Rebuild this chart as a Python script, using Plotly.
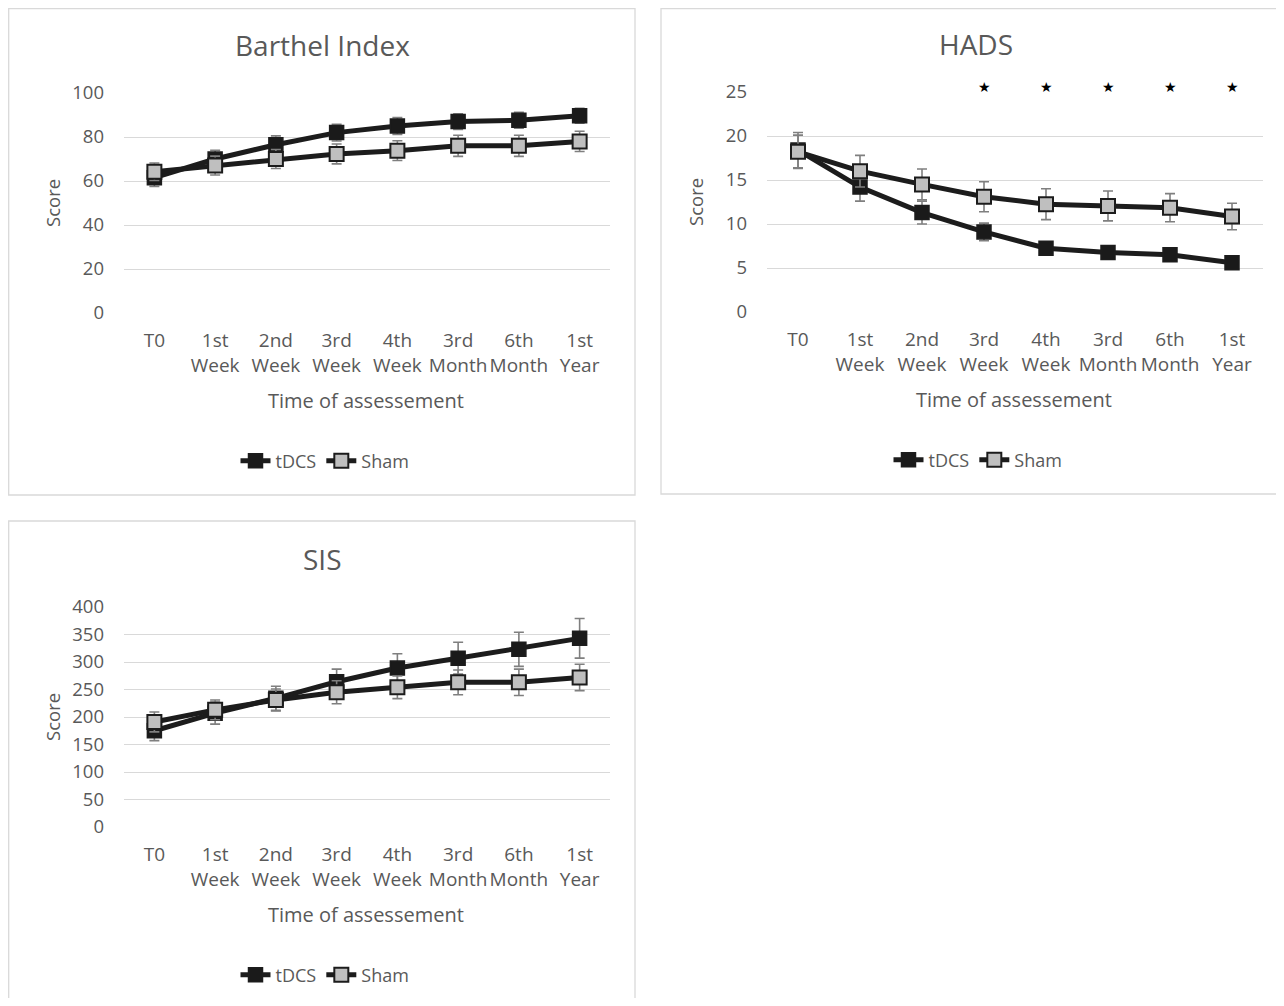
import plotly.graph_objects as go

categories = ["T0", "1st<br>Week", "2nd<br>Week", "3rd<br>Week", "4th<br>Week",
              "3rd<br>Month", "6th<br>Month", "1st<br>Year"]

barthel_tdcs = [61.5, 70, 76.5, 82, 85, 87, 87.6, 89.7]
barthel_tdcs_err = [4, 4, 4, 3.8, 3.8, 3.6, 3.6, 3.4]
barthel_sham = [64.2, 67, 70, 72.3, 73.8, 76, 76, 78]
barthel_sham_err = [4, 4.3, 4.3, 4.5, 4.5, 4.8, 4.8, 4.6]

hads_tdcs = [18.4, 14.2, 11.3, 9.1, 7.25, 6.75, 6.5, 5.6]
hads_tdcs_err = [2.0, 1.6, 1.3, 1.0, 0.5, 0.5, 0.5, 0.4]
hads_sham = [18.2, 16.0, 14.5, 13.1, 12.25, 12.05, 11.85, 10.85]
hads_sham_err = [1.9, 1.8, 1.75, 1.7, 1.75, 1.7, 1.6, 1.5]
hads_significant = ["3rd<br>Week", "4th<br>Week", "3rd<br>Month", "6th<br>Month", "1st<br>Year"]

sis_tdcs = [175, 207, 234, 264, 289, 307, 323, 343]
sis_tdcs_err = [18, 20, 22, 23, 26, 29, 31, 36]
sis_sham = [191, 213, 231, 245, 254, 263, 263, 272]
sis_sham_err = [18, 18, 20, 21, 20.5, 22.5, 24, 24]

W, H = 1268, 990
OFF = 8
def px(x):
    return (x - OFF) / W
def py(y):
    return 1 - (y - OFF) / H

FONT = "Open Sans"
GREY = "#595959"
LINE = "#1c1c1c"
ERRC = "#7f7f7f"

fig = go.Figure()

panels = [
    dict(name="Barthel Index", tdcs=barthel_tdcs, te=barthel_tdcs_err, sham=barthel_sham, se=barthel_sham_err,
         x0=124, x1=610, y0=93, y1=313, rng=[0, 100], dtick=20, legend="legend", leg=(325, 461),
         title=(322, 45), box=(8.7, 8.7, 635, 495)),
    dict(name="HADS", tdcs=hads_tdcs, te=hads_tdcs_err, sham=hads_sham, se=hads_sham_err,
         x0=767, x1=1263, y0=92, y1=312, rng=[0, 25], dtick=5, legend="legend2", leg=(978, 460),
         title=(976, 44), box=(661, 8.7, 1277, 494)),
    dict(name="SIS", tdcs=sis_tdcs, te=sis_tdcs_err, sham=sis_sham, se=sis_sham_err,
         x0=124, x1=610, y0=607, y1=827, rng=[0, 400], dtick=50, legend="legend3", leg=(325, 975),
         title=(322, 559), box=(8.7, 521, 635, 1010)),
]

shapes = []
annotations = []
layout_updates = {}

for i, p in enumerate(panels):
    sfx = "" if i == 0 else str(i + 1)
    xa, ya = "x" + sfx, "y" + sfx
    fig.add_trace(go.Scatter(
        x=categories, y=p["tdcs"], name="tDCS", mode="lines+markers",
        xaxis=xa, yaxis=ya, legend=p["legend"],
        line=dict(color=LINE, width=5),
        marker=dict(symbol="square", size=14, color="#1a1a1a", line=dict(color=LINE, width=1.5)),
        error_y=dict(type="data", array=p["te"], color=ERRC, thickness=1.6, width=5),
    ))
    fig.add_trace(go.Scatter(
        x=categories, y=p["sham"], name="Sham", mode="lines+markers",
        xaxis=xa, yaxis=ya, legend=p["legend"],
        line=dict(color=LINE, width=5),
        marker=dict(symbol="square", size=14, color="#bfbfbf", line=dict(color=LINE, width=2)),
        error_y=dict(type="data", array=p["se"], color=ERRC, thickness=1.6, width=5),
    ))
    layout_updates["xaxis" + sfx] = dict(
        domain=[px(p["x0"]), px(p["x1"])], anchor=ya, type="category",
        categoryorder="array", categoryarray=categories, range=[-0.5, 7.5],
        showgrid=False, zeroline=False, showline=False, ticks="", automargin=False, tickangle=0,
        tickfont=dict(family=FONT, size=19, color=GREY), ticklabelstandoff=14,
    )
    layout_updates["yaxis" + sfx] = dict(
        domain=[py(p["y1"]), py(p["y0"])], anchor=xa, range=p["rng"], dtick=p["dtick"],
        showgrid=True, gridcolor="#d9d9d9", gridwidth=1.3, zeroline=False, showline=False,
        ticks="", automargin=False, tickfont=dict(family=FONT, size=18.5, color=GREY), ticklabelstandoff=19,
    )
    layout_updates[p["legend"]] = dict(
        orientation="h", x=px(p["leg"][0]), y=py(p["leg"][1]), xanchor="center", yanchor="middle",
        font=dict(family=FONT, size=18, color=GREY), bgcolor="rgba(0,0,0,0)", itemwidth=30,
        tracegroupgap=0,
    )
    bx0, by0, bx1, by1 = p["box"]
    shapes.append(dict(type="rect", xref="paper", yref="paper",
                       x0=px(bx0), x1=px(bx1), y0=py(by1), y1=py(by0),
                       line=dict(color="#d9d9d9", width=1.3), fillcolor="rgba(0,0,0,0)", layer="below"))
    annotations.append(dict(text=p["name"], xref="paper", yref="paper", x=px(p["title"][0]), y=py(p["title"][1]),
                            xanchor="center", yanchor="middle", showarrow=False,
                            font=dict(family=FONT, size=28, color=GREY)))
    cx = (p["x0"] + p["x1"]) / 2
    cy = (p["y0"] + p["y1"]) / 2
    annotations.append(dict(text="Score", xref="paper", yref="paper", x=px(p["x0"] - 72), y=py(cy),
                            xanchor="center", yanchor="middle", showarrow=False, textangle=-90,
                            font=dict(family=FONT, size=18.5, color=GREY)))
    annotations.append(dict(text="Time of assessement", xref="paper", yref="paper", x=px(cx - 1), y=py(p["y1"] + 87),
                            xanchor="center", yanchor="middle", showarrow=False,
                            font=dict(family=FONT, size=20, color=GREY)))

for c in hads_significant:
    annotations.append(dict(text="★", xref="x2", yref="y2", x=c, y=25, yshift=5,
                            xanchor="center", yanchor="middle", showarrow=False,
                            font=dict(family="DejaVu Sans", size=14, color="#000000")))

fig.update_layout(
    width=W, height=H, margin=dict(l=0, r=0, t=0, b=0, autoexpand=False),
    paper_bgcolor="white", plot_bgcolor="white",
    shapes=shapes, annotations=annotations, showlegend=True,
    **layout_updates,
)

fig.write_html("out.html")
